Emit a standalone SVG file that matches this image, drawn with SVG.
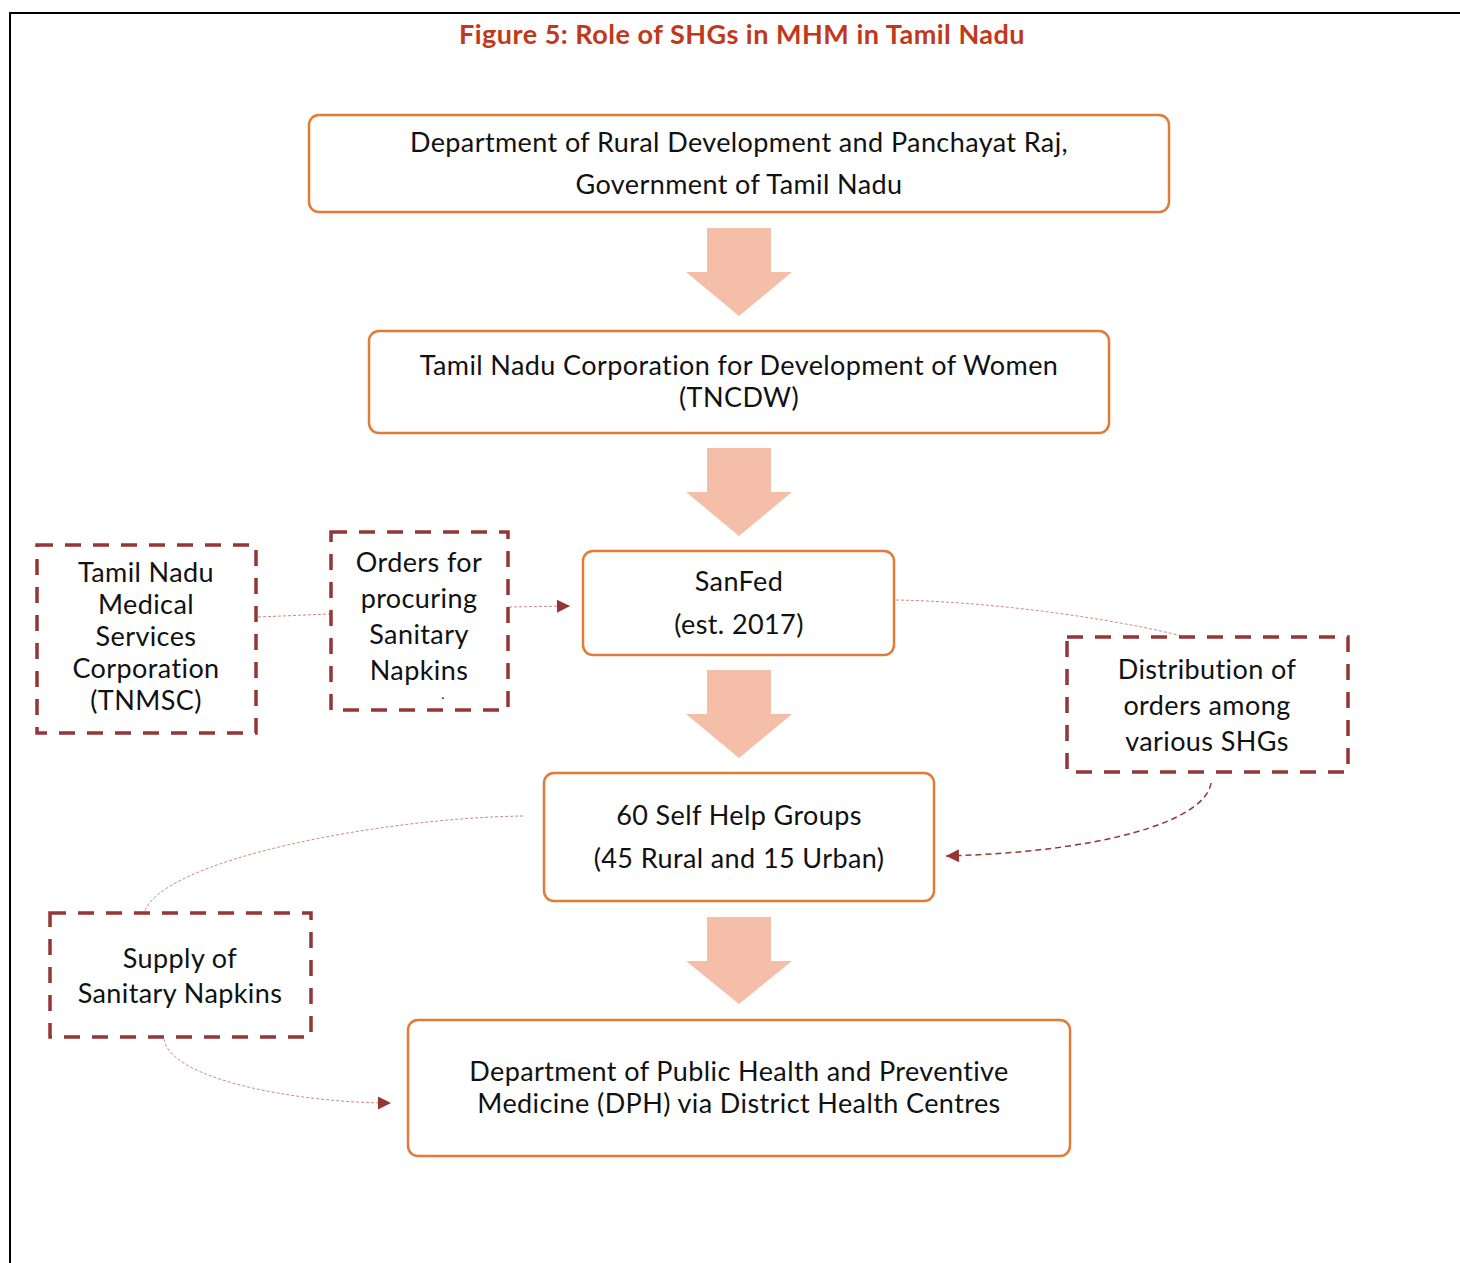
<svg xmlns="http://www.w3.org/2000/svg" width="1460" height="1263" viewBox="0 0 1460 1263">
<defs>
<style>
.t{font-family:Lato,"Open Sans","Liberation Sans",sans-serif;font-size:27px;letter-spacing:0.4px;fill:#111;text-anchor:middle}
.ttl{font-family:Lato,"Open Sans","Liberation Sans",sans-serif;font-size:27px;letter-spacing:0.5px;font-weight:bold;fill:#C0391B;text-anchor:middle}
.box{fill:#fff;stroke:#E07B39;stroke-width:2.5}
.dbox{fill:#fff;stroke:#943634;stroke-width:3.5;stroke-dasharray:16 12}
.blk{fill:#F4BEA8}
.thin{fill:none;stroke:#C98A88;stroke-width:1;stroke-dasharray:3 2}
.med{fill:none;stroke:#943634;stroke-width:1.5;stroke-dasharray:6 4}
</style>
<marker id="ah" viewBox="0 0 10 10" refX="10" refY="5" markerWidth="15" markerHeight="13" markerUnits="userSpaceOnUse" orient="auto"><path d="M0,0L10,5L0,10z" fill="#943634"/></marker>
</defs>
<rect width="1460" height="1263" fill="#fff"/>
<path d="M10,1263V13H1460" fill="none" stroke="#000" stroke-width="2"/>
<text class="ttl" x="742" y="44">Figure 5: Role of SHGs in MHM in Tamil Nadu</text>

<g id="arrows">
<path class="blk" d="M707,228H771V272H792L739,316L686,272H707Z"/>
<path class="blk" d="M707,448H771V492H792L739,536L686,492H707Z"/>
<path class="blk" d="M707,670H771V714H792L739,758L686,714H707Z"/>
<path class="blk" d="M707,917H771V961H792L739,1004L686,961H707Z"/>
</g>

<g id="connectors">
<path class="thin" d="M258,617L330,614"/>
<path class="thin" d="M509,607L570,606" marker-end="url(#ah)"/>
<path class="thin" d="M896,600C1000,602 1120,620 1186,637"/>
<path class="med" d="M1211,783C1205,822 1100,852 946,856" marker-end="url(#ah)"/>
<path class="thin" d="M523,816C380,818 160,860 144,913"/>
<path class="thin" d="M164,1039C170,1080 300,1103 391,1103" marker-end="url(#ah)"/>
</g>

<g id="n1"><rect class="box" x="309" y="115" width="860" height="97" rx="10"/>
<text class="t" x="739" y="152">Department of Rural Development and Panchayat Raj,</text>
<text class="t" x="739" y="194">Government of Tamil Nadu</text></g>

<g id="n2"><rect class="box" x="369" y="331" width="740" height="102" rx="10"/>
<text class="t" x="739" y="375">Tamil Nadu Corporation for Development of Women</text>
<text class="t" x="739" y="407">(TNCDW)</text></g>

<g id="n3"><rect class="box" x="583" y="551" width="311" height="104" rx="10"/>
<text class="t" x="739" y="591">SanFed</text>
<text class="t" x="739" y="634">(est. 2017)</text></g>

<g id="n4"><rect class="box" x="544" y="773" width="390" height="128" rx="10"/>
<text class="t" x="739" y="825">60 Self Help Groups</text>
<text class="t" x="739" y="868">(45 Rural and 15 Urban)</text></g>

<g id="n5"><rect class="box" x="408" y="1020" width="662" height="136" rx="10"/>
<text class="t" x="739" y="1081">Department of Public Health and Preventive</text>
<text class="t" x="739" y="1113">Medicine (DPH) via District Health Centres</text></g>

<g id="n6"><rect class="dbox" x="37" y="545" width="219" height="188"/>
<text class="t" x="146" y="582">Tamil Nadu</text>
<text class="t" x="146" y="614">Medical</text>
<text class="t" x="146" y="646">Services</text>
<text class="t" x="146" y="678">Corporation</text>
<text class="t" x="146" y="710">(TNMSC)</text></g>

<g id="n7"><rect class="dbox" x="331" y="532" width="177" height="178"/>
<text class="t" x="419" y="572">Orders for</text>
<text class="t" x="419" y="608">procuring</text>
<text class="t" x="419" y="644">Sanitary</text>
<text class="t" x="419" y="680">Napkins</text>
<text class="t" x="443" y="699" style="font-size:14px">.</text></g>

<g id="n8"><rect class="dbox" x="1067" y="637" width="281" height="135"/>
<text class="t" x="1207" y="679">Distribution of</text>
<text class="t" x="1207" y="715">orders among</text>
<text class="t" x="1207" y="751">various SHGs</text></g>

<g id="n9"><rect class="dbox" x="50" y="913" width="261" height="124"/>
<text class="t" x="180" y="968">Supply of</text>
<text class="t" x="180" y="1003">Sanitary Napkins</text></g>
</svg>
